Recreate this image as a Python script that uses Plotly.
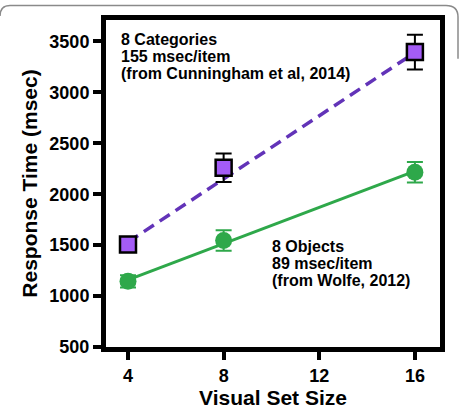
import plotly.graph_objects as go

# Data
set_size = [4, 8, 16]
cat_rt = [1505, 2260, 3395]
cat_err = [40, 140, 170]
obj_rt = [1145, 1545, 2215]
obj_err = [60, 100, 100]

# regression lines (endpoints)
fit_x = [4, 16]
cat_fit = [1530, 3390]
obj_fit = [1158, 2226]

x_ticks = [4, 8, 12, 16]
y_ticks = [500, 1000, 1500, 2000, 2500, 3000, 3500]

cat_text = ["8 Categories", "155 msec/item", "(from Cunningham et al, 2014)"]
obj_text = ["8 Objects", "89 msec/item", "(from Wolfe, 2012)"]

PURPLE_LINE = "#6233b8"
PURPLE_FILL = "#a45cf7"
GREEN = "#2ea84a"
FONT = "Liberation Sans, Arial, sans-serif"

fig = go.Figure()
fig.add_trace(go.Scatter(x=fit_x, y=cat_fit, mode="lines",
                         line=dict(color=PURPLE_LINE, width=3.5, dash="12px,7px"),
                         showlegend=False, hoverinfo="skip"))
fig.add_trace(go.Scatter(x=fit_x, y=obj_fit, mode="lines",
                         line=dict(color=GREEN, width=3),
                         showlegend=False, hoverinfo="skip"))
fig.add_trace(go.Scatter(x=set_size, y=cat_rt, mode="markers",
                         marker=dict(symbol="square", size=16, color=PURPLE_FILL,
                                     line=dict(color="black", width=2.5)),
                         error_y=dict(type="data", array=cat_err, color="black",
                                      thickness=2, width=8),
                         showlegend=False))
fig.add_trace(go.Scatter(x=set_size, y=obj_rt, mode="markers",
                         marker=dict(symbol="circle", size=17, color=GREEN,
                                     line=dict(width=0)),
                         error_y=dict(type="data", array=obj_err, color=GREEN,
                                      thickness=2, width=8),
                         showlegend=False))

L, R, T, B = 106, 440, 20, 357
W, H = 461, 418

def px(x):
    return (x - L) / (R - L)

def py(y):
    return (B - y) / (B - T)

anns = []
for i, t in enumerate(cat_text):
    anns.append(dict(x=px(119), y=py(40 + 17.5 * i), xref="paper", yref="paper",
                     text=t, showarrow=False, xanchor="left", yanchor="middle",
                     font=dict(family=FONT, size=16, color="black", weight="bold")))
for i, t in enumerate(obj_text):
    anns.append(dict(x=px(270), y=py(253 + 17.5 * i), xref="paper", yref="paper",
                     text=t, showarrow=False, xanchor="left", yanchor="middle",
                     font=dict(family=FONT, size=16, color="black", weight="bold")))

# outer rounded frame (light gray)
frame_path = (f"M {px(0)},{py(16)} Q {px(0)},{py(5)} {px(10)},{py(5)} "
              f"L {px(446)},{py(5)} Q {px(458)},{py(5)} {px(458)},{py(17)} "
              f"L {px(458)},{py(60)}")

fig.update_layout(
    width=W, height=H,
    margin=dict(l=L, r=W - R, t=T, b=H - B),
    paper_bgcolor="white", plot_bgcolor="white",
    font=dict(family=FONT, color="black"),
    annotations=anns,
    shapes=[dict(type="path", path=frame_path, xref="paper", yref="paper",
                 line=dict(color="#8a8a8a", width=1.5), layer="below")],
    xaxis=dict(range=[3.08, 17.05], tickmode="array", tickvals=x_ticks,
               showgrid=False, zeroline=False,
               showline=True, linecolor="black", linewidth=5, mirror=True,
               ticks="outside", ticklen=8, tickwidth=4, tickcolor="black",
               tickfont=dict(family=FONT, size=18, color="black", weight="bold"),
               title=dict(text="Visual Set Size", standoff=6,
                          font=dict(family=FONT, size=21, color="black", weight="bold"))),
    yaxis=dict(range=[500, 3710], tickmode="array", tickvals=y_ticks,
               showgrid=False, zeroline=False,
               showline=True, linecolor="black", linewidth=5, mirror=True,
               ticks="outside", ticklen=8, tickwidth=4, tickcolor="black",
               tickfont=dict(family=FONT, size=18, color="black", weight="bold"),
               title=dict(text="Response Time (msec)", standoff=8,
                          font=dict(family=FONT, size=21, color="black", weight="bold"))),
)

fig.write_html("out.html")
